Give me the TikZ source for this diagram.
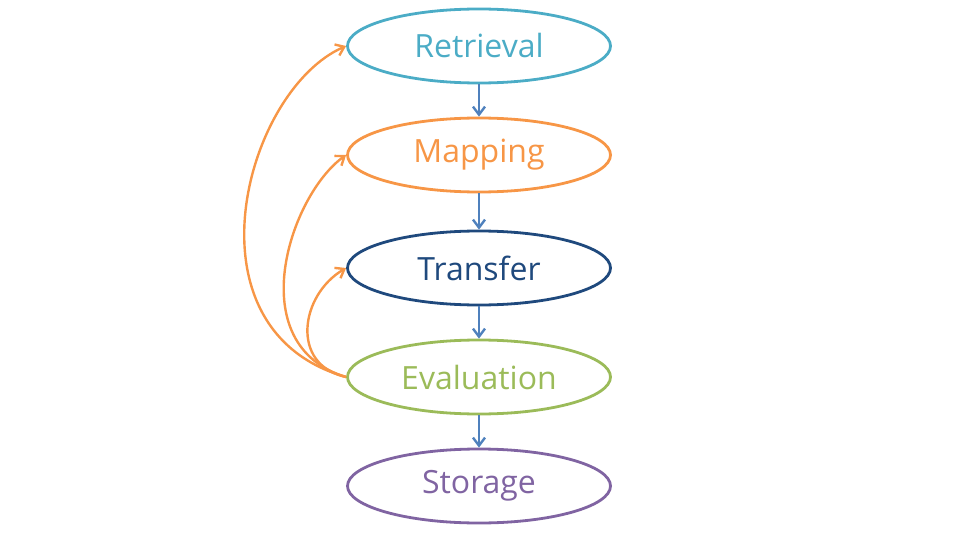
\documentclass[tikz,border=0pt]{standalone}
\usepackage{fontspec}
\setmainfont{Open Sans}
\usetikzlibrary{shapes.geometric,arrows.meta}
\definecolor{cRe}{HTML}{4BACC6}
\definecolor{cMa}{HTML}{F79646}
\definecolor{cTr}{HTML}{1F497D}
\definecolor{cEv}{HTML}{9BBB59}
\definecolor{cSt}{HTML}{8064A2}
\definecolor{cAr}{HTML}{4F81BD}
\begin{document}
\begin{tikzpicture}[x=1pt,y=-1pt,
  stage/.style={ellipse, draw=#1, text=#1, line width=2.8pt, minimum width=263pt, minimum height=74pt, inner sep=0pt, font=\fontsize{32}{36}\selectfont},
  down/.style={draw=cAr, line width=2.6pt, -{Straight Barb[length=8pt,width=12pt,line width=2.4pt]}},
  back/.style={draw=cMa, line width=2.4pt, -{Straight Barb[length=8pt,width=12pt,line width=2.4pt]}}]
\useasboundingbox (0,0) rectangle (960,540);
\node[stage=cRe] (re) at (479,46) {Retrieval};
\node[stage=cMa] (ma) at (479,155) {Mapping};
\node[stage=cTr] (tr) at (479,268) {Transfer};
\node[stage=cEv] (ev) at (479,377) {Evaluation};
\node[stage=cSt] (st) at (479,486) {Storage};
\draw[down] (re.south) -- (ma.north);
\draw[down] (ma.south) -- (tr.north);
\draw[down] (tr.south) -- (ev.north);
\draw[down] (ev.south) -- (st.north);
\draw[back] (ev.west) .. controls (180,330) and (245,90) .. (re.west);
\draw[back] (ev.west) .. controls (240,345) and (290,195) .. (ma.west);
\draw[back] (ev.west) .. controls (290,365) and (300,295) .. (tr.west);
\end{tikzpicture}
\end{document}
